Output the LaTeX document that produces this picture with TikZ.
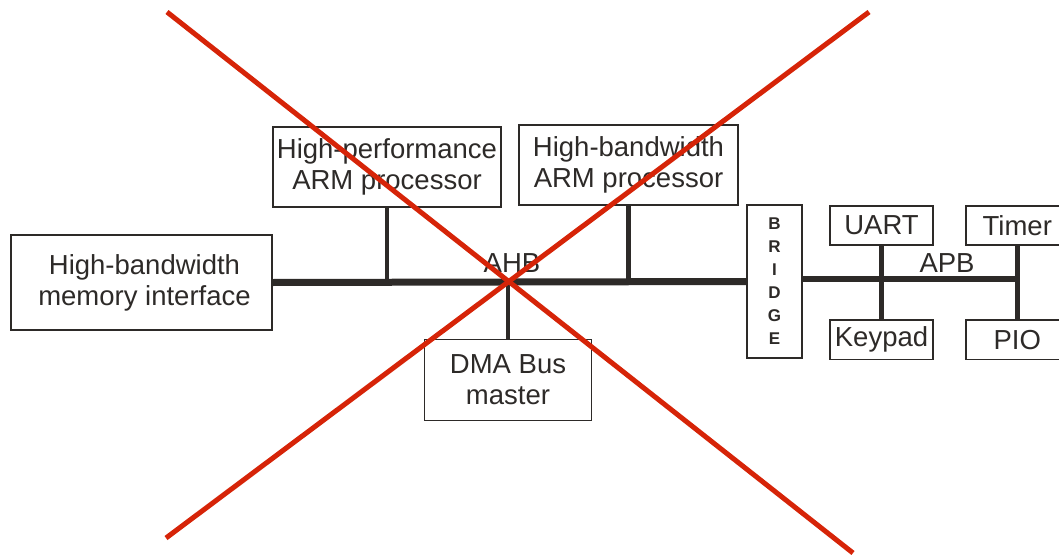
\documentclass[tikz,border=0pt]{standalone}
\usepackage{fontspec}
\setmainfont{Liberation Sans}
\usetikzlibrary{positioning}
\definecolor{myred}{RGB}{214,36,8}
\definecolor{mygray}{RGB}{45,42,40}
\tikzstyle{block}=[draw=mygray,line width=1.8pt,inner sep=0pt,align=center,text=mygray,font=\fontsize{27.5}{31}\selectfont]
\tikzstyle{smallblock}=[block,minimum width=103pt,minimum height=39.5pt]
\tikzstyle{bus}=[draw=mygray,line width=7pt]
\tikzstyle{stub}=[draw=mygray,line width=4.5pt]
\tikzstyle{cross}=[draw=myred,line width=5pt]

\begin{document}
\begin{tikzpicture}[x=1pt,y=-1pt]
\useasboundingbox (0,0) rectangle (1059,556);
\node [block,minimum width=261pt,minimum height=95pt] (mem) at (141.5,282.5) {\hspace*{6pt}High-bandwidth\\\hspace*{6pt}memory interface};
\node [block,minimum width=228pt,minimum height=80pt] (hpa) at (387,167) {High-performance\\ARM processor};
\node [block,minimum width=219pt,minimum height=80pt] (hba) at (628.5,165) {High-bandwidth\\ARM processor};
\node [block,minimum width=167pt,minimum height=81pt] (dma) at (508,380) {DMA Bus\\master};
\node [block,minimum width=55pt,minimum height=153pt,font=\bfseries\fontsize{17}{23}\selectfont] (bridge) at (774.5,281.5) {B\\R\\I\\D\\G\\E};
\node [smallblock] (uart) at (881.5,225.5) {UART};
\node [smallblock,right=31pt of uart] (timer) {Timer};
\node [smallblock,below=73pt of uart] (keypad) {Keypad};
\node [smallblock,below=73pt of timer] (pio) {PIO};
\coordinate (apb) at (1015,279);
\draw [bus] (mem.east) -- (bridge.west);
\draw [bus,line width=6pt] (bridge.east |- apb) -- (apb);
\draw [stub] (hpa.south) -- (hpa.south |- mem.east);
\draw [stub] (hba.south) -- (hba.south |- mem.east);
\draw [stub] (dma.north) -- (dma.north |- mem.east);
\draw [stub] (uart.south) -- (keypad.north);
\draw [stub] (timer.south) -- (pio.north);
\node [text=mygray,font=\fontsize{27.5}{31}\selectfont] (ahb) at (512,263) {AHB};
\node [text=mygray,font=\fontsize{27.5}{31}\selectfont] (apblabel) at (947,263) {APB};
\coordinate (xa) at (167,12);
\coordinate (xb) at (853,553);
\coordinate (xc) at (869,12);
\coordinate (xd) at (166,538);
\draw [cross] (xa) -- (xb);
\draw [cross] (xc) -- (xd);
\end{tikzpicture}
\end{document}
